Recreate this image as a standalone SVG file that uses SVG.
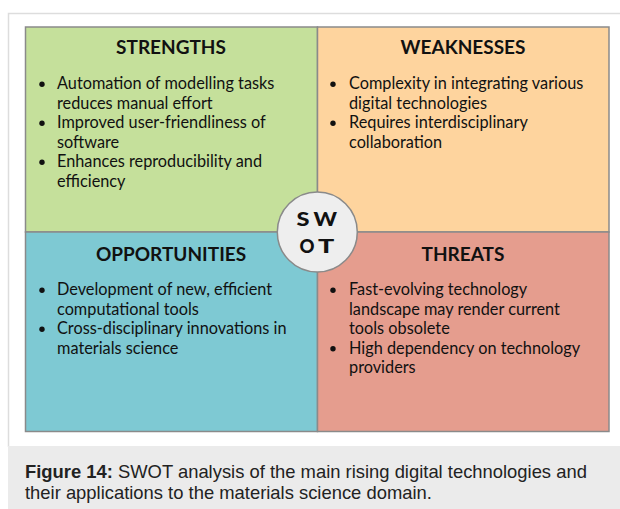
<svg xmlns="http://www.w3.org/2000/svg" width="620" height="509" viewBox="0 0 620 509">
<style>
.q{stroke:#8a8a8a;stroke-width:1.5}
.h{font-family:Lato,"Liberation Sans",sans-serif;font-weight:bold;font-size:19px;fill:#111;text-anchor:middle}
.b{font-family:Lato,"Liberation Sans",sans-serif;font-size:16.3px;fill:#111}
.cap{font-family:"Liberation Sans",Arial,sans-serif;font-size:18.4px;fill:#222}
.sw{font-family:Lato,"Liberation Sans",sans-serif;font-weight:900;font-size:19px;fill:#111}
</style>
<rect x="0" y="0" width="620" height="509" fill="#fff"/>
<g id="frame">
<path d="M8.5 447 V13.5 H620" fill="none" stroke="#dddddd" stroke-width="1.5"/>
<rect x="8" y="446" width="612" height="63" fill="#ebebeb"/>
</g>
<g id="strengths">
<rect class="q" x="25.5" y="27" width="292" height="205" fill="#c5e09b"/>
<text class="h" x="171" y="53.5">STRENGTHS</text>
<circle cx="42" cy="84.3" r="2.7" fill="#111"/>
<text class="b" x="57" y="89.3">Automation of modelling tasks</text>
<text class="b" x="57" y="108.7">reduces manual effort</text>
<circle cx="42" cy="123.3" r="2.7" fill="#111"/>
<text class="b" x="57" y="128">Improved user-friendliness of</text>
<text class="b" x="57" y="147.5">software</text>
<circle cx="42" cy="162.3" r="2.7" fill="#111"/>
<text class="b" x="57" y="167">Enhances reproducibility and</text>
<text class="b" x="57" y="186.5">efficiency</text>
</g>
<g id="weaknesses">
<rect class="q" x="317.5" y="27" width="291.5" height="205" fill="#fed49e"/>
<text class="h" x="463" y="53.5">WEAKNESSES</text>
<circle cx="333" cy="84.3" r="2.7" fill="#111"/>
<text class="b" x="349" y="89.3">Complexity in integrating various</text>
<text class="b" x="349" y="108.7">digital technologies</text>
<circle cx="333" cy="123.3" r="2.7" fill="#111"/>
<text class="b" x="349" y="128">Requires interdisciplinary</text>
<text class="b" x="349" y="147.5">collaboration</text>
</g>
<g id="opportunities">
<rect class="q" x="25.5" y="232" width="292" height="199.5" fill="#7ec9d3"/>
<text class="h" x="171" y="260.5">OPPORTUNITIES</text>
<circle cx="42" cy="290.3" r="2.7" fill="#111"/>
<text class="b" x="57" y="295">Development of new, efficient</text>
<text class="b" x="57" y="314.5">computational tools</text>
<circle cx="42" cy="329.3" r="2.7" fill="#111"/>
<text class="b" x="57" y="334">Cross-disciplinary innovations in</text>
<text class="b" x="57" y="353.5">materials science</text>
</g>
<g id="threats">
<rect class="q" x="317.5" y="232" width="291.5" height="199.5" fill="#e59d8e"/>
<text class="h" x="463" y="260.5">THREATS</text>
<circle cx="333" cy="290.3" r="2.7" fill="#111"/>
<text class="b" x="349" y="295">Fast-evolving technology</text>
<text class="b" x="349" y="314.5">landscape may render current</text>
<text class="b" x="349" y="334">tools obsolete</text>
<circle cx="333" cy="348.8" r="2.7" fill="#111"/>
<text class="b" x="349" y="353.5">High dependency on technology</text>
<text class="b" x="349" y="373">providers</text>
</g>
<g id="swot">
<circle cx="317.3" cy="232" r="40" fill="#eeeeee" stroke="#8a8a8a" stroke-width="1.5"/>
<text class="sw" x="296.5" y="226" textLength="13" lengthAdjust="spacingAndGlyphs">S</text>
<text class="sw" x="313.5" y="226" textLength="23.5" lengthAdjust="spacingAndGlyphs">W</text>
<text class="sw" x="299.5" y="253" textLength="15" lengthAdjust="spacingAndGlyphs">O</text>
<text class="sw" x="318" y="253" textLength="16.3" lengthAdjust="spacingAndGlyphs">T</text>
</g>
<g id="connectors"></g>
<g id="caption">
<text class="cap" x="25" y="478.3"><tspan font-weight="bold">Figure 14:</tspan> SWOT analysis of the main rising digital technologies and</text>
<text class="cap" x="25" y="499">their applications to the materials science domain.</text>
</g>
</svg>
